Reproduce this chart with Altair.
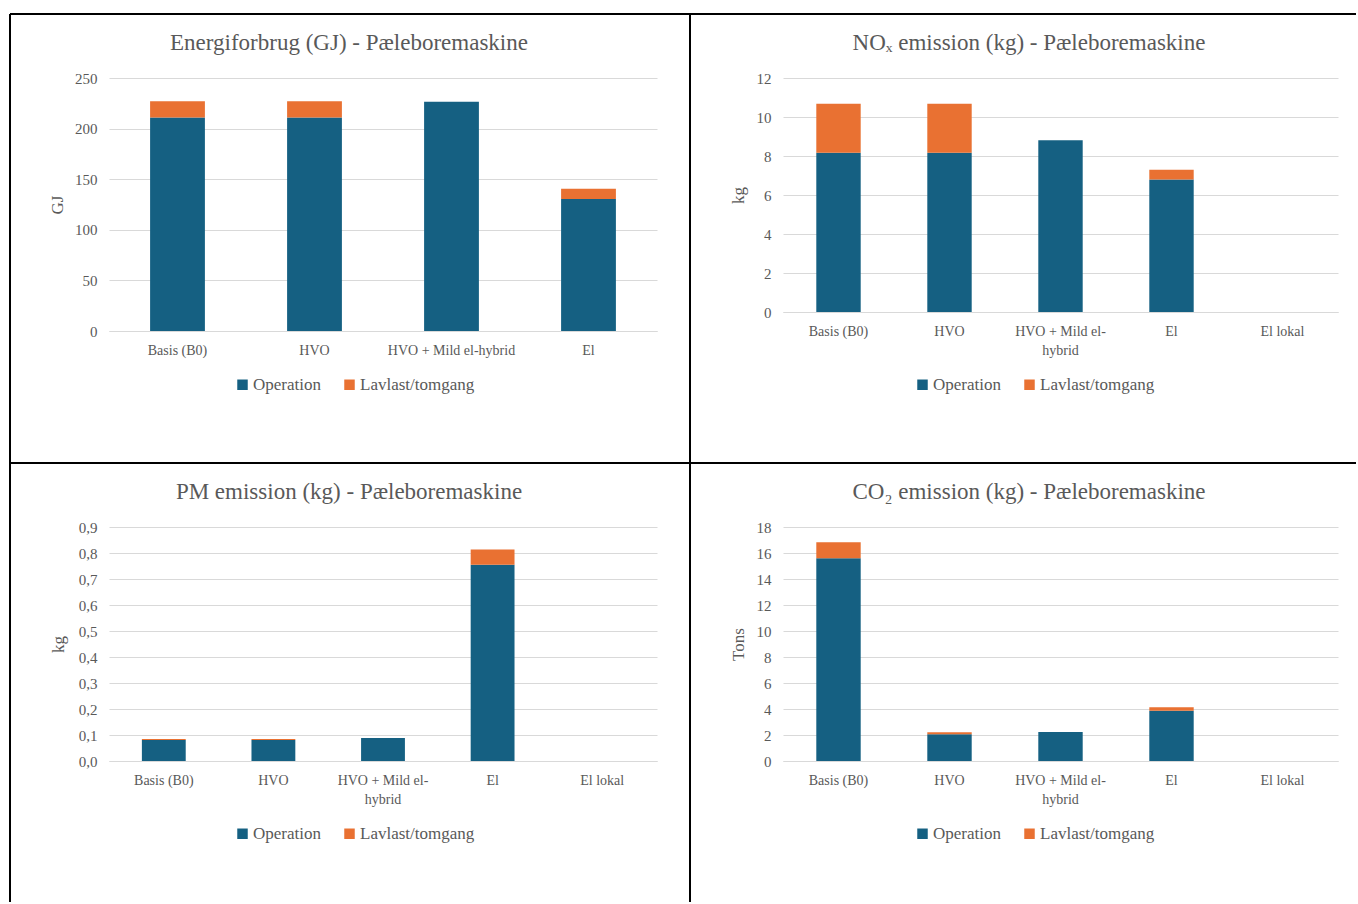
import altair as alt
import pandas as pd

FONT = "Liberation Serif"
TEXT_GREY = "#595959"
GRID_GREY = "#D9D9D9"
SERIES = ["Operation", "Lavlast/tomgang"]
COLORS = ["#156082", "#E97132"]

# Energy use, GJ (four scenarios)
energy_cats = ["Basis (B0)", "HVO", "HVO + Mild el-hybrid", "El"]
energy_op = [211, 211, 226.5, 130.5]
energy_idle = [16, 16, 0, 10]

# Emission panels share five scenarios
cats5 = ["Basis (B0)", "HVO", "HVO + Mild el-hybrid", "El", "El lokal"]
nox_op = [8.17, 8.17, 8.81, 6.79, 0]
nox_idle = [2.51, 2.51, 0, 0.51, 0]

pm_op = [0.081, 0.081, 0.0885, 0.755, 0]
pm_idle = [0.004, 0.004, 0, 0.058, 0]

co2_op = [15.59, 2.05, 2.23, 3.87, 0]
co2_idle = [1.23, 0.16, 0, 0.26, 0]

WRAP = ("datum.value == 'HVO + Mild el-hybrid' ? "
        "['HVO + Mild el-', 'hybrid'] : datum.value")
COMMA = "replace(format(datum.value, '.1f'), '.', ',')"


def long_table(cats, op, idle):
    rows = []
    for c, o, i in zip(cats, op, idle):
        rows.append({"cat": c, "series": SERIES[0], "rank": 0, "val": o})
        rows.append({"cat": c, "series": SERIES[1], "rank": 1, "val": i})
    return pd.DataFrame(rows)


one_row = pd.DataFrame({"k": [0]})


def hline(y, x1, x2):
    return alt.Chart(one_row).mark_rule(color="black", strokeWidth=2).encode(
        x=alt.value(x1), x2=alt.value(x2), y=alt.value(y))


def vline(x, y1, y2):
    return alt.Chart(one_row).mark_rule(color="black", strokeWidth=2).encode(
        x=alt.value(x), y=alt.value(y1), y2=alt.value(y2))


def panel(title, cats, op, idle, ytitle, ticks, width, height,
          title_x, ytitle_x, legend_x, wrap=False, decimal=False, extra=()):
    df = long_table(cats, op, idle)
    x_kw = {"labelExpr": WRAP} if wrap else {}
    y_kw = {"labelExpr": COMMA} if decimal else {}
    x_axis = alt.Axis(title=None, labelAngle=0, labelFont=FONT, labelFontSize=14,
                      labelColor=TEXT_GREY, labelPadding=12, labelBaseline="top",
                      labelLineHeight=19, ticks=False, domainColor=GRID_GREY,
                      domainWidth=1, grid=False, **x_kw)
    y_axis = alt.Axis(values=ticks, title=ytitle, titleX=ytitle_x, titleY=height / 2,
                      titleAngle=270, titleAlign="center", titleBaseline="middle",
                      titleFont=FONT, titleFontSize=17, titleFontWeight="normal",
                      titleColor=TEXT_GREY, labelFont=FONT, labelFontSize=15,
                      labelColor=TEXT_GREY, labelPadding=12, ticks=False,
                      domain=False, grid=True, gridColor=GRID_GREY, gridWidth=1,
                      **y_kw)
    legend = alt.Legend(orient="none", legendX=legend_x, legendY=298,
                        direction="horizontal", title=None, symbolType="square",
                        symbolSize=110, symbolStrokeWidth=0, labelFont=FONT,
                        labelFontSize=17, labelColor=TEXT_GREY, columnPadding=20,
                        labelOffset=2, padding=0)
    bars = alt.Chart(df).mark_bar().encode(
        x=alt.X("cat:N", sort=cats,
                scale=alt.Scale(paddingInner=0.6, paddingOuter=0.3), axis=x_axis),
        y=alt.Y("val:Q", stack="zero",
                scale=alt.Scale(domain=[0, ticks[-1]], nice=False), axis=y_axis),
        color=alt.Color("series:N", scale=alt.Scale(domain=SERIES, range=COLORS),
                        legend=legend),
        order=alt.Order("rank:Q", sort="ascending"),
    )
    heading = alt.Chart(pd.DataFrame({"t": [title]})).mark_text(
        font=FONT, fontSize=23, color=TEXT_GREY, align="center",
        baseline="alphabetic").encode(
        x=alt.value(title_x), y=alt.value(-28), text="t:N")
    return alt.layer(bars, heading, *extra).properties(width=width, height=height)


# Page frame, drawn from the first panel (origin at its plot area)
frame_lines = [
    hline(-64, -99, 1247),
    hline(385, -99, 1247),
    vline(-99, -64, 824),
    vline(581, -64, 824),
]

p1 = panel("Energiforbrug (GJ) - Pæleboremaskine", energy_cats, energy_op,
           energy_idle, "GJ", [0, 50, 100, 150, 200, 250], 548, 253,
           240, -52, 125, extra=frame_lines)
p2 = panel("NOₓ emission (kg) - Pæleboremaskine", cats5, nox_op, nox_idle,
           "kg", [0, 2, 4, 6, 8, 10, 12], 555, 234, 246, -45, 131, wrap=True)
p3 = panel("PM emission (kg) - Pæleboremaskine", cats5, pm_op, pm_idle,
           "kg", [0, 0.1, 0.2, 0.3, 0.4, 0.5, 0.6, 0.7, 0.8, 0.9], 548, 234,
           240, -51, 125, wrap=True, decimal=True)
p4 = panel("CO₂ emission (kg) - Pæleboremaskine", cats5, co2_op, co2_idle,
           "Tons", [0, 2, 4, 6, 8, 10, 12, 14, 16, 18], 555, 234, 246, -45, 131,
           wrap=True)

chart = alt.concat(
    p1, p2, p3, p4, columns=2, spacing={"row": 196, "column": 126}, bounds="flush"
).resolve_scale(color="independent").resolve_legend(color="independent").properties(
    padding={"left": 9, "top": 13, "right": 0, "bottom": 0}, background="white"
).configure_view(stroke=None)

chart.save("out.html", embed_options={"renderer": "svg", "actions": False})
